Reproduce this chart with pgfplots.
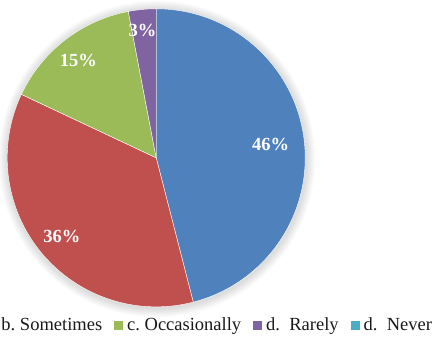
\documentclass[border=0pt]{standalone}
\usepackage{pgfplots}
\pgfplotsset{compat=1.18}
\usepackage{fontspec}
\setmainfont{Liberation Serif}
\setsansfont{Liberation Serif}
\definecolor{cA}{HTML}{4F81BD}
\definecolor{cB}{HTML}{C0504D}
\definecolor{cC}{HTML}{9BBB59}
\definecolor{cD}{HTML}{8064A2}
\definecolor{cE}{HTML}{4BACC6}
\begin{document}
\begin{tikzpicture}[x=1bp,y=1bp]
\begin{axis}[at={(0,0)}, anchor=south west, scale only axis,
  width=433bp, height=337bp, xmin=0, xmax=433, ymin=0, ymax=337,
  hide axis, clip=false,
  legend columns=-1,
  legend style={draw=none, fill=none, inner sep=0pt, outer sep=0pt,
    at={(432/433,12/337)}, anchor=east,
    font=\rmfamily\fontsize{18.5bp}{20bp}\selectfont, text=black!90,
    nodes={inner sep=0pt},
    /tikz/every odd column/.append style={column sep=4bp},
    /tikz/every even column/.append style={column sep=12bp}},
  legend image code/.code={\fill[#1] (0bp,-4.5bp) rectangle (9bp,4.5bp);}]
\addlegendimage{fill=cA, draw=none}\addlegendentry{a.\ Always}
\addlegendimage{fill=cB, draw=none}\addlegendentry{b.\ Sometimes}
\addlegendimage{fill=cC, draw=none}\addlegendentry{c.\ Occasionally}
\addlegendimage{fill=cD, draw=none}\addlegendentry{d.\ \ Rarely}
\addlegendimage{fill=cE, draw=none}\addlegendentry{d.\ \ Never}
% soft shadow
\fill[black, opacity=0.018] (axis cs:157,178) circle[radius=150.3bp];
\fill[black, opacity=0.018] (axis cs:157,178) circle[radius=151.6bp];
\fill[black, opacity=0.018] (axis cs:157,178) circle[radius=152.9bp];
\fill[black, opacity=0.018] (axis cs:157,178) circle[radius=154.2bp];
\fill[black, opacity=0.018] (axis cs:157,178) circle[radius=155.5bp];
\fill[black, opacity=0.018] (axis cs:157,178) circle[radius=156.8bp];
\fill[black, opacity=0.018] (axis cs:157,178) circle[radius=158.1bp];
% sectors: 46, 36, 15, 3, 0 (percent), clockwise from top
\fill[cA, draw=white, line width=0.4bp] (axis cs:156.2,179.2) -- ++(90:149bp) arc[start angle=90, end angle={90-46*3.6}, radius=149bp] -- cycle;
\fill[cB, draw=white, line width=0.4bp] (axis cs:156.2,179.2) -- ++({90-46*3.6}:149bp) arc[start angle={90-46*3.6}, end angle={90-82*3.6}, radius=149bp] -- cycle;
\fill[cC, draw=white, line width=0.4bp] (axis cs:156.2,179.2) -- ++({90-82*3.6}:149bp) arc[start angle={90-82*3.6}, end angle={90-97*3.6}, radius=149bp] -- cycle;
\fill[cD, draw=white, line width=0.4bp] (axis cs:156.2,179.2) -- ++({90-97*3.6}:149bp) arc[start angle={90-97*3.6}, end angle={90-100*3.6}, radius=149bp] -- cycle;
\begin{scope}[every node/.style={white, font=\rmfamily\bfseries\fontsize{18.5bp}{20bp}\selectfont, inner sep=0pt}]
\node at (axis cs:270.5,193) {46\%};
\node at (axis cs:62,101) {36\%};
\node at (axis cs:78.5,277) {15\%};
\node at (axis cs:142.5,307) {3\%};
\end{scope}
\coordinate (BL) at (axis cs:0,0);
\coordinate (TR) at (axis cs:433,337);
\end{axis}
\pgfresetboundingbox
\useasboundingbox (BL) rectangle (TR);
\end{tikzpicture}
\end{document}
